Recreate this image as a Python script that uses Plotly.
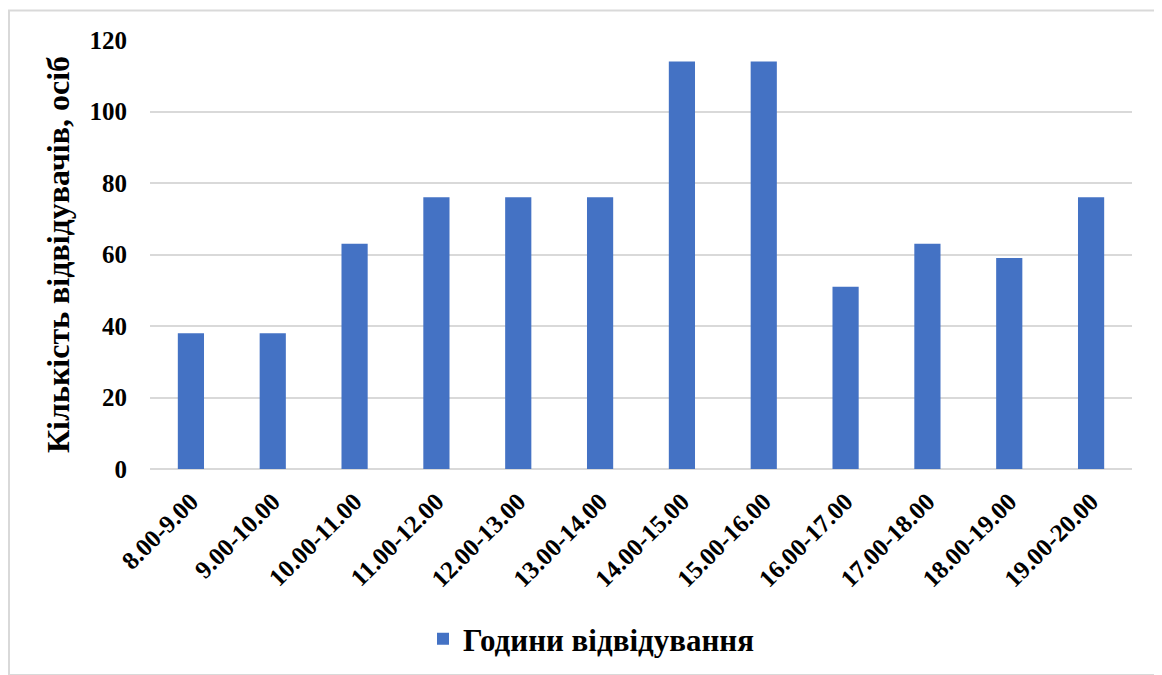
import plotly.graph_objects as go

categories = ["8.00-9.00", "9.00-10.00", "10.00-11.00", "11.00-12.00", "12.00-13.00",
              "13.00-14.00", "14.00-15.00", "15.00-16.00", "16.00-17.00", "17.00-18.00",
              "18.00-19.00", "19.00-20.00"]
visitors = [38, 38, 63, 76, 76, 76, 114, 114, 51, 63, 59, 76]
series_name = "Години відвідування"
y_title = "Кількість відвідувачів, осіб"
y_ticks = [0, 20, 40, 60, 80, 100, 120]

FONT = "Liberation Serif"

# page has an 8px body margin; work in page coordinates and convert
OFF = 8
W, H = 1162 - OFF, 675 - OFF
L = 150 - OFF
T = 39.5 - OFF
pw, ph = 982, 430
R = W - L - pw
B = H - T - ph


def px(xp):
    return (xp - OFF - L) / pw


def py(yp):
    return (T + ph - (yp - OFF)) / ph


fig = go.Figure()
fig.add_trace(go.Bar(
    x=categories, y=visitors, name=series_name,
    marker=dict(color="#4472C4", line=dict(width=0)),
    width=0.32, showlegend=True,
))

fig.update_layout(
    width=W, height=H,
    margin=dict(l=L, r=R, t=T, b=B, autoexpand=False),
    paper_bgcolor="white", plot_bgcolor="white",
    font=dict(family=FONT, color="black"),
    showlegend=True,
    legend=dict(
        orientation="h", x=px(591), xanchor="center",
        y=py(640), yanchor="middle",
        font=dict(family=FONT, size=31, color="black", weight="bold"),
    ),
    xaxis=dict(
        type="category", tickangle=-45,
        tickfont=dict(family=FONT, size=25, color="black", weight="bold"),
        showline=False, showgrid=False, ticks="", ticklabelstandoff=12,
    ),
    yaxis=dict(
        range=[0, 120], tickvals=y_ticks, ticktext=[str(v) for v in y_ticks],
        tickfont=dict(family=FONT, size=25, color="black", weight="bold"),
        showgrid=True, gridcolor="#D9D9D9", gridwidth=2,
        zeroline=True, zerolinecolor="#D9D9D9", zerolinewidth=2,
        showline=False, ticks="", ticklabelstandoff=22,
        title=dict(text=y_title, font=dict(family=FONT, size=32, color="black", weight="bold"),
                   standoff=10),
    ),
    shapes=[dict(
        type="rect", xref="paper", yref="paper",
        x0=px(9), x1=px(1161),
        y0=py(676), y1=py(10),
        line=dict(color="#D9D9D9", width=2), fillcolor="rgba(0,0,0,0)", layer="below",
    )],
)

fig.write_html("out.html")
